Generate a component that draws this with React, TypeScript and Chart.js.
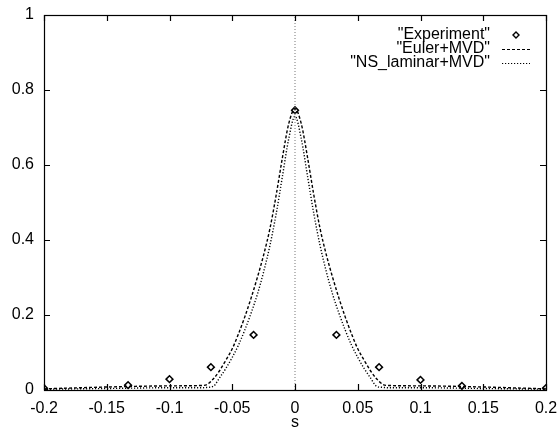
import React, { useEffect, useRef } from "react";
import { Chart, registerables } from "chart.js";

Chart.register(...registerables);

// Experimental data
const expS = [-0.2, -0.133, -0.1, -0.067, -0.033, 0, 0.033, 0.067, 0.1, 0.133, 0.2];
const expVals = [0.005, 0.013, 0.029, 0.061, 0.147, 0.746, 0.147, 0.061, 0.027, 0.011, 0.005];

// Euler+MVD curve
const eulerS = [-0.2, -0.15, -0.1, -0.075, -0.07, -0.065, -0.06, -0.055, -0.05, -0.045, -0.04, -0.035, -0.03, -0.025, -0.02, -0.015, -0.01, -0.005, 0,
  0.005, 0.01, 0.015, 0.02, 0.025, 0.03, 0.035, 0.04, 0.045, 0.05, 0.055, 0.06, 0.065, 0.07, 0.075, 0.1, 0.15, 0.2];
const eulerVals = [0.003, 0.008, 0.011, 0.012, 0.015, 0.03, 0.052, 0.08, 0.11, 0.15, 0.195, 0.245, 0.3, 0.36, 0.43, 0.52, 0.62, 0.71, 0.75,
  0.71, 0.62, 0.52, 0.43, 0.36, 0.3, 0.245, 0.195, 0.15, 0.11, 0.08, 0.052, 0.03, 0.015, 0.012, 0.011, 0.008, 0.003];

// NS_laminar+MVD curve
const nsS = [-0.2, -0.15, -0.1, -0.075, -0.07, -0.065, -0.06, -0.055, -0.05, -0.045, -0.04, -0.035, -0.03, -0.025, -0.02, -0.015, -0.01, -0.005, 0,
  0.005, 0.01, 0.015, 0.02, 0.025, 0.03, 0.035, 0.04, 0.045, 0.05, 0.055, 0.06, 0.065, 0.07, 0.075, 0.1, 0.15, 0.2];
const nsVals = [0.002, 0.004, 0.006, 0.006, 0.007, 0.01, 0.033, 0.058, 0.087, 0.12, 0.16, 0.205, 0.255, 0.315, 0.385, 0.47, 0.57, 0.67, 0.73,
  0.67, 0.57, 0.47, 0.385, 0.315, 0.255, 0.205, 0.16, 0.12, 0.087, 0.058, 0.033, 0.01, 0.007, 0.006, 0.006, 0.004, 0.002];

// Vertical zero line
const zeroLineS = [0, 0];
const zeroLineVals = [0, 1];

const xTicks = [-0.2, -0.15, -0.1, -0.05, 0, 0.05, 0.1, 0.15, 0.2];
const yTicks = [0, 0.2, 0.4, 0.6, 0.8, 1];
const legendLabels = ['"Experiment"', '"Euler+MVD"', '"NS_laminar+MVD"'];

const FONT = "'Liberation Sans', Arial, sans-serif";

const pts = (xs: number[], ys: number[]) => xs.map((x, i) => ({ x, y: ys[i] }));

const framePlugin = {
  id: "frame",
  afterDatasetsDraw(chart: any) {
    const { ctx, chartArea: a, scales } = chart;
    const xs = scales.x;
    const ys = scales.y;
    ctx.save();
    ctx.strokeStyle = "#000";
    ctx.lineWidth = 1.2;
    ctx.strokeRect(a.left + 0.5, a.top + 0.5, a.right - a.left, a.bottom - a.top);
    const L = 6;
    ctx.beginPath();
    xTicks.forEach((v) => {
      const px = Math.round(xs.getPixelForValue(v)) + 0.5;
      ctx.moveTo(px, a.bottom);
      ctx.lineTo(px, a.bottom - L);
      ctx.moveTo(px, a.top);
      ctx.lineTo(px, a.top + L);
    });
    yTicks.forEach((v) => {
      const py = Math.round(ys.getPixelForValue(v)) + 0.5;
      ctx.moveTo(a.left, py);
      ctx.lineTo(a.left + L, py);
      ctx.moveTo(a.right, py);
      ctx.lineTo(a.right - L, py);
    });
    ctx.stroke();

    // legend
    ctx.font = `16px ${FONT}`;
    ctx.fillStyle = "#000";
    ctx.textAlign = "right";
    ctx.textBaseline = "middle";
    const textRight = a.right - 56;
    const sampleL = a.right - 44;
    const sampleR = a.right - 16;
    legendLabels.forEach((lab, i) => {
      const y = a.top + 20 + i * 14;
      ctx.fillText(lab, textRight, y);
      ctx.beginPath();
      if (i === 0) {
        const cx = (sampleL + sampleR) / 2;
        ctx.moveTo(cx, y - 3);
        ctx.lineTo(cx + 3, y);
        ctx.lineTo(cx, y + 3);
        ctx.lineTo(cx - 3, y);
        ctx.closePath();
        ctx.lineWidth = 1.4;
        ctx.stroke();
      } else {
        ctx.setLineDash(i === 1 ? [3, 2] : [1.2, 1.8]);
        ctx.lineWidth = 1.2;
        ctx.moveTo(sampleL, y + 0.5);
        ctx.lineTo(sampleR, y + 0.5);
        ctx.stroke();
        ctx.setLineDash([]);
      }
    });
    ctx.restore();
  },
};

export default function App() {
  const ref = useRef<HTMLCanvasElement | null>(null);
  useEffect(() => {
    if (!ref.current) return;
    const chart = new Chart(ref.current, {
      type: "scatter",
      data: {
        datasets: [
          {
            label: "zero",
            data: pts(zeroLineS, zeroLineVals),
            showLine: true,
            borderColor: "#777",
            borderWidth: 1,
            borderDash: [1, 2],
            pointRadius: 0,
          },
          {
            label: legendLabels[1],
            data: pts(eulerS, eulerVals),
            showLine: true,
            borderColor: "#000",
            borderWidth: 1.4,
            borderDash: [3, 2],
            pointRadius: 0,
            cubicInterpolationMode: "monotone",
          },
          {
            label: legendLabels[2],
            data: pts(nsS, nsVals),
            showLine: true,
            borderColor: "#000",
            borderWidth: 1.4,
            borderDash: [1.2, 1.8],
            pointRadius: 0,
            cubicInterpolationMode: "monotone",
          },
          {
            label: legendLabels[0],
            data: pts(expS, expVals),
            showLine: false,
            pointStyle: "rectRot",
            pointRadius: 3.4,
            borderColor: "#000",
            borderWidth: 1.5,
            backgroundColor: "#fff",
          },
        ],
      },
      options: {
        animation: false,
        responsive: false,
        layout: { padding: { top: 15, right: 13, left: 0, bottom: 0 } },
        plugins: { legend: { display: false }, tooltip: { enabled: false } },
        scales: {
          x: {
            type: "linear",
            min: -0.2,
            max: 0.2,
            afterBuildTicks: (s: any) => {
              s.ticks = xTicks.map((v) => ({ value: v }));
            },
            afterFit: (s: any) => {
              s.height = 42;
            },
            ticks: {
              color: "#000",
              font: { family: FONT, size: 16 },
              padding: 1,
              maxRotation: 0,
              autoSkip: false,
              callback: (v: any) => String(Math.round(Number(v) * 100) / 100),
            },
            grid: { display: false },
            border: { display: false },
            title: {
              display: true,
              text: "s",
              color: "#000",
              font: { family: FONT, size: 16 },
              padding: { top: 0, bottom: 0 },
            },
          },
          y: {
            type: "linear",
            min: 0,
            max: 1,
            afterBuildTicks: (s: any) => {
              s.ticks = yTicks.map((v) => ({ value: v }));
            },
            afterFit: (s: any) => {
              s.width = 44;
            },
            ticks: {
              color: "#000",
              font: { family: FONT, size: 16 },
              padding: 2,
              callback: (v: any) => String(Math.round(Number(v) * 10) / 10),
            },
            grid: { display: false },
            border: { display: false },
          },
        },
      },
      plugins: [framePlugin],
    } as any);
    return () => chart.destroy();
  }, []);
  return (
    <div style={{ position: "absolute", left: 0, top: 0, width: 559, height: 432, background: "#fff" }}>
      <canvas ref={ref} width={559} height={432} style={{ display: "block" }} />
    </div>
  );
}
